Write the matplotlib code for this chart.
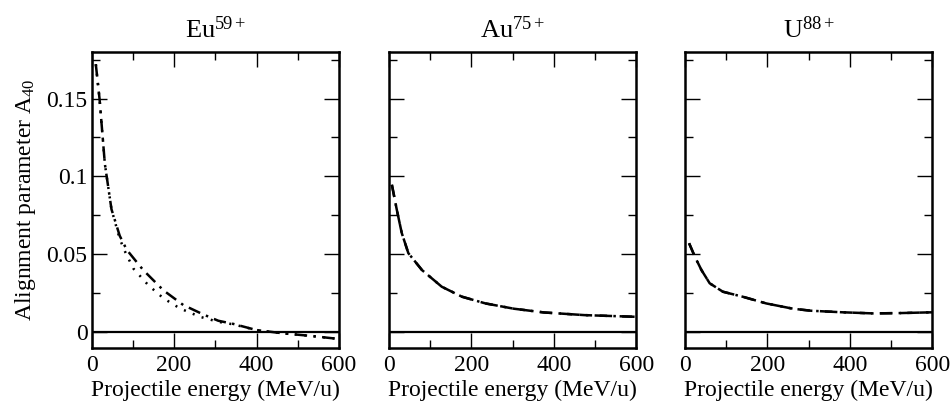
import matplotlib
matplotlib.use("Agg")
import matplotlib.pyplot as plt
from matplotlib.ticker import MultipleLocator

plt.rcParams['font.family'] = ['Liberation Serif', 'DejaVu Serif']
plt.rcParams['mathtext.fontset'] = 'custom'
plt.rcParams['mathtext.rm'] = 'Liberation Serif'
plt.rcParams['mathtext.it'] = 'Liberation Serif:italic'

# Eu59+ : two curves
eu_E1 = [10, 19, 32, 48, 68, 85, 125, 174, 222, 271, 307, 343, 400, 465, 530, 600]
eu_A1 = [0.172, 0.150, 0.108, 0.079, 0.062, 0.053, 0.040, 0.027, 0.0176, 0.0115,
         0.0075, 0.0055, 0.0015, -0.0006, -0.0022, -0.0042]
eu_E2 = [10, 19, 32, 48, 68, 81, 101, 137, 174, 214, 263, 307, 343, 400, 465, 530, 600]
eu_A2 = [0.172, 0.150, 0.108, 0.079, 0.060, 0.0518, 0.041, 0.0304, 0.0219, 0.0154,
         0.010, 0.0068, 0.0052, 0.0015, -0.0006, -0.0022, -0.0042]

# Au75+
au_E = [7, 19, 31, 47, 80, 128, 177, 234, 303, 376, 474, 600]
au_A1 = [0.0947, 0.0786, 0.0637, 0.0508, 0.040, 0.0293, 0.0229, 0.0186, 0.0152,
         0.0128, 0.0111, 0.010]
au_A2 = [0.0947, 0.0786, 0.0637, 0.0508, 0.040, 0.0293, 0.0229, 0.0186, 0.0152,
         0.0128, 0.0111, 0.010]

# U88+
u_E = [10, 24, 40, 60, 92, 140, 197, 262, 306, 383, 456, 521, 600]
u_A1 = [0.0572, 0.0486, 0.040, 0.0315, 0.0261, 0.0229, 0.0186, 0.0152, 0.0139,
        0.0129, 0.0122, 0.0124, 0.0129]
u_A2 = [0.0572, 0.0486, 0.040, 0.0315, 0.0261, 0.0229, 0.0186, 0.0152, 0.0139,
        0.0129, 0.0122, 0.0124, 0.0129]

titles = [r'Eu$^{59+}$', r'Au$^{75+}$', r'U$^{88+}$']
lefts = [0.0963, 0.4086, 0.7195]

dashdot = (5, 2.5, 1, 2.5)
dashdotdot = (0.8, 3, 0.8, 3, 0.8, 3)
dashed = (5, 3)

fig = plt.figure(figsize=(9.52, 4.05), dpi=100)
axes = [fig.add_axes([l, 0.1407, 0.2598, 0.7316]) for l in lefts]

lw = 1.8
axes[0].plot(eu_E1, eu_A1, color='black', lw=lw, dashes=dashdot)
axes[0].plot(eu_E2, eu_A2, color='black', lw=lw, dashes=dashdotdot)
axes[1].plot(au_E, au_A1, color='black', lw=lw, dashes=dashdot)
axes[1].plot(au_E, au_A2, color='black', lw=lw, dashes=dashed)
axes[2].plot(u_E, u_A1, color='black', lw=lw, dashes=dashdot)
axes[2].plot(u_E, u_A2, color='black', lw=lw, dashes=dashed)

for i, ax in enumerate(axes):
    ax.axhline(0, color='black', lw=1.6)
    ax.set_xlim(0, 600)
    ax.set_ylim(-0.01, 0.18)
    ax.xaxis.set_major_locator(MultipleLocator(200))
    ax.xaxis.set_minor_locator(MultipleLocator(100))
    ax.yaxis.set_major_locator(MultipleLocator(0.05))
    ax.yaxis.set_minor_locator(MultipleLocator(0.025))
    ax.tick_params(which='both', direction='in', top=True, right=True,
                   labelsize=17, width=1)
    ax.tick_params(axis='x', pad=5)
    ax.tick_params(axis='y', pad=3)
    ax.tick_params(which='major', length=11)
    ax.tick_params(which='minor', length=6)
    for s in ax.spines.values():
        s.set_linewidth(1.8)
    ax.set_title(titles[i], fontsize=19, pad=10)
    ax.set_xlabel('Projectile energy (MeV/u)', fontsize=17, labelpad=3)
    ax.set_yticks([0, 0.05, 0.1, 0.15])
    if i == 0:
        ax.set_yticklabels(['0', '0.05', '0.1', '0.15'])
        ax.set_ylabel(r'Alignment parameter A$_{\mathit{40}}$', fontsize=17, labelpad=6)
    else:
        ax.set_yticklabels([])

fig.savefig('out.png', dpi=100)
